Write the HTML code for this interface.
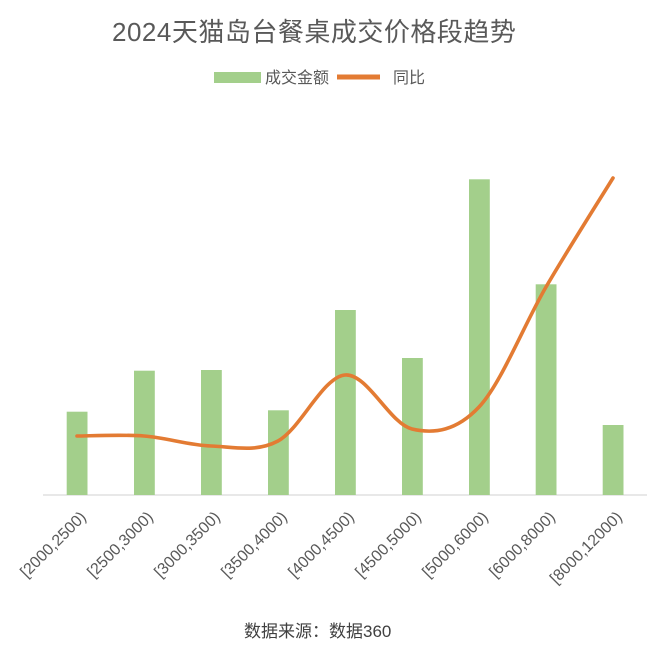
<!DOCTYPE html>
<html>
<head>
<meta charset="utf-8">
<style>
  html,body{margin:0;padding:0;background:#ffffff;}
  svg{display:block;}
  text{font-family:"Liberation Sans","Noto Sans CJK SC",sans-serif;}
</style>
</head>
<body>
<svg width="660" height="651" viewBox="0 0 660 651" xmlns="http://www.w3.org/2000/svg">
  <rect width="660" height="651" fill="#ffffff"/>
  <!-- Title -->
  <text x="112" y="41" font-size="26" letter-spacing="0.5" fill="#595959">2024天猫岛台餐桌成交价格段趋势</text>

  <!-- Legend -->
  <rect x="214" y="72" width="47" height="11" fill="#A3CF8B"/>
  <text x="265" y="83" font-size="16" fill="#595959">成交金额</text>
  <rect x="337" y="74.5" width="43" height="5" fill="#E37B33"/>
  <text x="393" y="83" font-size="16" fill="#595959">同比</text>

  <!-- Axis -->
  <line x1="43" y1="495" x2="647" y2="495" stroke="#D9D9D9" stroke-width="1.2"/>

  <!-- Bars -->
  <g fill="#A3CF8B">
    <rect x="66.7" y="411.7" width="20.8" height="83.3"/>
    <rect x="134" y="370.7" width="20.8" height="124.3"/>
    <rect x="201" y="370" width="20.8" height="125"/>
    <rect x="268" y="410.3" width="20.8" height="84.7"/>
    <rect x="335" y="310" width="20.8" height="185"/>
    <rect x="402" y="358" width="20.8" height="137"/>
    <rect x="469" y="179.3" width="20.8" height="315.7"/>
    <rect x="535.7" y="284.3" width="20.8" height="210.7"/>
    <rect x="602.7" y="425" width="20.8" height="70"/>
  </g>

  <!-- Line -->
  <path d="M77,436 C88.2,436 121.7,434.3 144,436 C166.3,437.7 188.7,445.2 211,446 C233.3,446.8 255.7,452.8 278,441 C300.3,429.2 322.7,377 345,375 C367.3,373 389.7,423.7 412,429 C434.3,434.3 456.7,430.7 479,407 C501.3,383.3 523.7,325.2 546,287 C568.3,248.8 601.8,196.2 613,178"
        fill="none" stroke="#E37B33" stroke-width="3.6" stroke-linecap="round" stroke-linejoin="round"/>

  <!-- X labels -->
  <g font-size="16" fill="#595959" text-anchor="end">
    <text x="87" y="518" transform="rotate(-45 87 518)">[2000,2500)</text>
    <text x="154" y="518" transform="rotate(-45 154 518)">[2500,3000)</text>
    <text x="221" y="518" transform="rotate(-45 221 518)">[3000,3500)</text>
    <text x="288" y="518" transform="rotate(-45 288 518)">[3500,4000)</text>
    <text x="355" y="518" transform="rotate(-45 355 518)">[4000,4500)</text>
    <text x="422" y="518" transform="rotate(-45 422 518)">[4500,5000)</text>
    <text x="489" y="518" transform="rotate(-45 489 518)">[5000,6000)</text>
    <text x="556" y="518" transform="rotate(-45 556 518)">[6000,8000)</text>
    <text x="623" y="518" transform="rotate(-45 623 518)">[8000,12000)</text>
  </g>

  <!-- Source -->
  <text x="244" y="637" font-size="17" fill="#404040">数据来源：数据360</text>
</svg>
</body>
</html>
